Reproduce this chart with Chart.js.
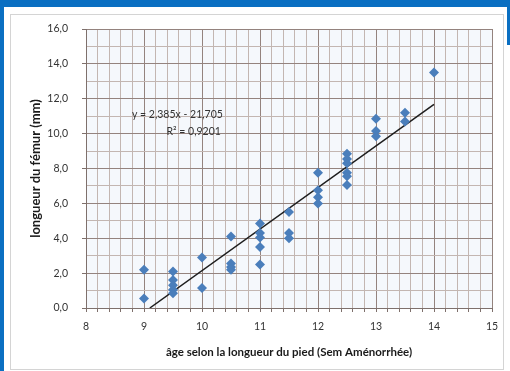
<!DOCTYPE html>
<html><head><meta charset="utf-8">
<script src="https://cdn.jsdelivr.net/npm/chart.js@4/dist/chart.umd.min.js"></script>
<style>
html,body{margin:0;padding:0;width:510px;height:371px;overflow:hidden;background:#fff;}
#frameTop{position:absolute;left:0;top:0;width:510px;height:7px;background:#0a6fc2;}
#frameLeft{position:absolute;left:0;top:0;width:4px;height:371px;background:#0a6fc2;}
#frameRight{position:absolute;right:0;top:0;width:3px;height:45px;background:#0a6fc2;}
#panel{position:absolute;left:10px;top:14px;width:494px;height:356px;border:1px solid #d4d4d4;box-sizing:border-box;}
canvas{position:absolute;left:0;top:0;}
</style></head>
<body>
<div id="frameTop"></div><div id="frameLeft"></div><div id="frameRight"></div>
<div id="panel"></div>
<canvas id="c" width="510" height="371"></canvas>
<script>
// Âge (SA) selon la longueur du pied
const ageX = [9, 9, 9.5, 9.5, 9.5, 9.5, 9.5, 10, 10, 10.5, 10.5, 10.5, 10.5,
  11, 11, 11, 11, 11, 11.5, 11.5, 11.5, 12, 12, 12, 12,
  12.5, 12.5, 12.5, 12.5, 12.5, 12.5, 13, 13, 13, 13.5, 13.5, 14];
// Longueur du fémur (mm)
const femurY = [2.2, 0.55, 2.1, 1.6, 1.3, 1.05, 0.85, 2.9, 1.15, 4.1, 2.55, 2.35, 2.2,
  4.85, 4.3, 4.05, 3.5, 2.5, 5.5, 4.3, 4.0, 7.75, 6.75, 6.35, 6.0,
  8.85, 8.55, 8.3, 7.75, 7.55, 7.05, 10.85, 10.15, 9.85, 11.2, 10.7, 13.5];
// Courbe de tendance (extrémités)
const trendX = [9.1, 14];
const trendY = [0.0, 11.68];
const eqLines = ['y = 2,385x - 21,705', 'R\u00B2 = 0,9201'];
const xTitle = '\u00E2ge selon la longueur du pied (Sem Am\u00E9norrh\u00E9e)';
const yTitle = 'longueur du f\u00E9mur (mm)';

const pts = ageX.map((x, i) => ({x: x, y: femurY[i]}));
const trend = trendX.map((x, i) => ({x: x, y: trendY[i]}));
const FONT = 'Lato, "Liberation Sans", sans-serif';

const isInt = v => Math.abs(v - Math.round(v)) < 1e-6;

const bgPlugin = {
  id: 'bg',
  beforeDraw(chart) {
    const {ctx, chartArea: a} = chart;
    ctx.save();
    ctx.fillStyle = '#f5f8fc';
    ctx.fillRect(a.left, a.top, a.right - a.left, a.bottom - a.top);
    ctx.restore();
  }
};
const eqPlugin = {
  id: 'eq',
  afterDatasetsDraw(chart) {
    const {ctx, scales} = chart;
    ctx.save();
    ctx.font = '10.5px ' + FONT;
    ctx.fillStyle = '#333';
    ctx.textAlign = 'right';
    ctx.textBaseline = 'middle';
    const xr = scales.x.getPixelForValue(10.36);
    ctx.fillText(eqLines[0], xr, scales.y.getPixelForValue(11.1));
    ctx.fillText(eqLines[1], xr - 2, scales.y.getPixelForValue(10.1));
    ctx.restore();
  }
};

new Chart(document.getElementById('c'), {
  type: 'scatter',
  data: {
    datasets: [
      {
        data: pts,
        pointStyle: 'rectRot',
        pointRadius: 5,
        backgroundColor: '#4a7ebb',
        borderColor: '#4a7ebb',
        borderWidth: 0
      },
      {
        type: 'line',
        data: trend,
        borderColor: '#1e1e1e',
        borderWidth: 1.5,
        pointRadius: 0,
        fill: false
      }
    ]
  },
  options: {
    responsive: false,
    animation: false,
    layout: {padding: {top: 29, right: 18, left: 0, bottom: 0}},
    plugins: {legend: {display: false}, tooltip: {enabled: false}},
    scales: {
      x: {
        type: 'linear', min: 8, max: 15,
        afterFit(s) { s.height = 63; },
        border: {color: '#7e706c', width: 1},
        grid: {
          color: c => isInt(c.tick.value) ? '#94837e' : '#c3b6b1',
          tickColor: '#7e706c', tickLength: 4, lineWidth: 1
        },
        ticks: {
          stepSize: 0.2, autoSkip: false, maxRotation: 0, padding: 8,
          color: '#333', font: {family: FONT, size: 10.5},
          callback: v => isInt(v) ? String(Math.round(v)) : ''
        },
        title: {display: true, text: xTitle, color: '#1a1a1a',
          font: {family: FONT, size: 11.5, weight: 'bold'}, padding: {top: 0, bottom: 12}}
      },
      y: {
        type: 'linear', min: 0, max: 16,
        afterFit(s) { s.width = 86; },
        border: {color: '#7e706c', width: 1},
        grid: {
          color: c => (Math.round(c.tick.value) % 2 === 0) ? '#94837e' : '#c3b6b1',
          tickColor: c => (Math.round(c.tick.value) % 2 === 0) ? '#7e706c' : 'rgba(0,0,0,0)',
          tickLength: 4, lineWidth: 1
        },
        ticks: {
          stepSize: 1, autoSkip: false, padding: 14,
          color: '#333', font: {family: FONT, size: 10.5},
          callback: v => (Math.round(v) % 2 === 0) ? v.toFixed(1).replace('.', ',') : ''
        },
        title: {display: true, text: yTitle, color: '#1a1a1a',
          font: {family: FONT, size: 13, weight: 'bold'}, padding: {top: 28, bottom: 0}}
      }
    }
  },
  plugins: [bgPlugin, eqPlugin]
});
</script>
</body></html>
